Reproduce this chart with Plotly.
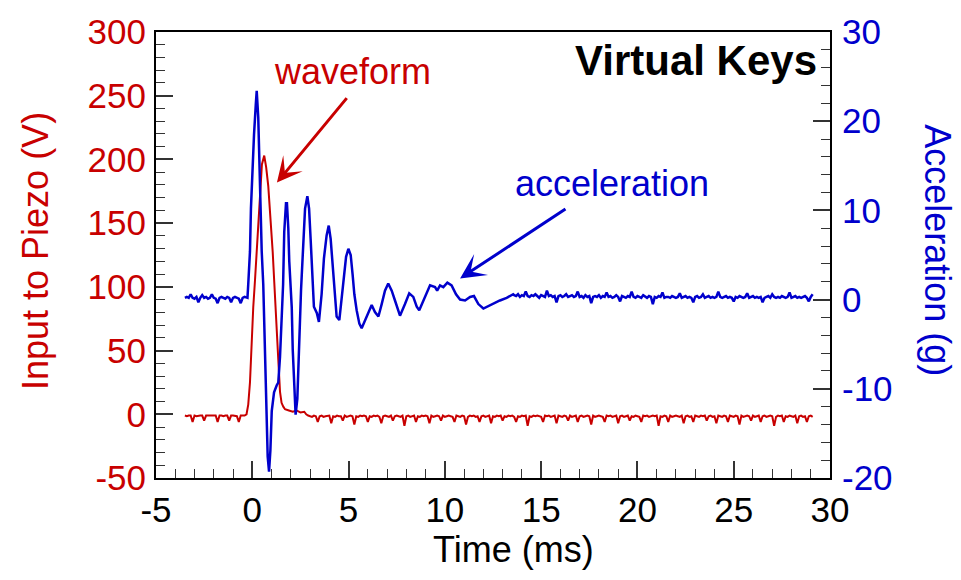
import plotly.graph_objects as go

# ---------------- data ----------------
NOISE_DT = 0.1

# Input to piezo (V)
red_pre_start = -3.5
red_pre = [-1, -1.5, -1, -1, -6, -1, -1.5, -1, -1, -1, -5, -1, -1, -1.5, -1, -1,
           -1, -6, -1, -1, -1.5, -1, -1, -5, -1, -1, -1, -1.5, -6, -1, -1, -1]
red_active_t = [-0.3, -0.21, -0.12, -0.03, 0.05, 0.14, 0.23, 0.31, 0.40, 0.50, 0.62, 0.72,
                0.83, 0.96, 1.06, 1.14, 1.27, 1.35, 1.44, 1.52, 1.61, 1.7, 1.9, 2.1, 2.3,
                2.5, 2.7, 2.8]
red_active_v = [0, 7.6, 25, 58, 84, 105, 127.5, 153, 179, 196, 203, 194,
                179, 153, 127.5, 104, 71, 43, 17.6, 9, 6, 4, 3, 2, 3,
                1.5, 2, 0]
red_post_start = 2.9
red_post = [
    -1, -1.5, -2, -1, -1.5, -6, -1.5, -1, -2, -1.5,
    -1.5, -1, -7, -1.5, -2, -1, -1.5, -1.5, -5, -1,
    -2, -1.5, -1, -1.5, -8, -1.5, -2, -1, -1.5, -1,
    -1.5, -6, -1.5, -2, -1, -1.5, -1, -2, -7, -1.5,
    -1, -1.5, -2, -1, -5, -1.5, -1, -1.5, -2, -1,
    -9, -1.5, -1, -2, -1.5, -1, -6, -1.5, -2, -1,
    -1.5, -1, -1.5, -7, -1, -2, -1.5, -1, -1.5, -5,
    -1, -2, -1.5, -1, -1.5, -2, -6, -1, -1.5, -2,
    -1, -1.5, -8, -2, -1, -1.5, -1, -2, -1.5, -6,
    -1.5, -1, -2, -1.5, -1, -7, -1.5, -2, -1, -1.5,
    -1, -5, -1.5, -2, -1, -1.5, -1, -2, -6, -1.5,
    -2, -1, -1.5, -1, -9, -1.5, -2, -1, -1.5, -1,
    -1.5, -2, -6, -1, -1.5, -1, -2, -1.5, -1, -7,
    -1, -1.5, -2, -1, -1.5, -5, -1, -2, -1.5, -1,
    -6, -1.5, -1, -2, -1.5, -1, -1.5, -8, -1, -2,
    -1.5, -1, -1.5, -2, -6, -1, -1.5, -1, -2, -1.5,
    -1, -7, -1.5, -1, -2, -1.5, -1, -5, -1.5, -2,
    -1, -1.5, -2, -6, -1, -1.5, -1, -2, -1.5, -1,
    -1.5, -1, -9, -1.5, -2, -1, -1.5, -6, -1, -2,
    -1.5, -1, -1.5, -2, -1, -7, -1.5, -1, -2, -1.5,
    -6, -1, -1.5, -2, -1, -1.5, -1, -5, -1.5, -1,
    -2, -1.5, -7, -1, -1.5, -2, -1, -1.5, -6, -1,
    -1.5, -2, -1, -1.5, -8, -1, -2, -1.5, -1, -1.5,
    -5, -1, -2, -1.5, -1, -6, -1.5, -1, -2, -1.5,
    -1, -1.5, -9, -2, -1, -1.5, -1, -6, -1.5, -2,
    -1, -1.5, -2, -1, -7, -1.5, -1, -2, -1.5, -6,
    -1.5, -1, -2]

# Acceleration (g)
blue_pre_start = -3.5
blue_pre = [0.2, 0.3, 0.2, 0.6, 0.2, 0.1, 0.3, -0.3, 0.2, 0.5, 0.2, 0.3, 0.1, 0.2, 0.6, 0.2,
            0.1, -0.4, 0.2, 0.3, 0.2, 0.1, 0.3, 0.2, -0.3, 0.2, 0.3, 0.2, 0.1, -0.4, 0.2,
            0.3, 0.2]
blue_active_t = [-0.25, -0.21, -0.12, -0.07, 0.0, 0.09, 0.18, 0.23, 0.31, 0.36, 0.44, 0.49,
                 0.57, 0.62, 0.70, 0.75, 0.80, 0.87, 0.94, 1.01, 1.13, 1.27, 1.35, 1.44,
                 1.53, 1.60, 1.66, 1.75, 1.80, 1.87, 1.92, 1.98, 2.05, 2.10, 2.17, 2.25,
                 2.34, 2.39, 2.48, 2.53, 2.57, 2.65, 2.74, 2.86, 2.95, 3.03, 3.12, 3.2,
                 3.35, 3.46, 3.6, 3.72, 3.86, 3.97, 4.07, 4.18, 4.3, 4.38, 4.52, 4.64,
                 4.76, 4.87, 4.99, 5.11, 5.21, 5.30, 5.42, 5.56, 5.68, 5.85, 6.03, 6.2,
                 6.37, 6.55, 6.72, 6.89, 7.06, 7.24, 7.41, 7.67, 7.93, 8.15, 8.36, 8.54,
                 8.67, 8.97, 9.23, 9.49, 9.6, 9.75, 9.92, 10.13, 10.35, 10.58, 10.79,
                 11.05, 11.31, 11.51, 11.74, 12.0, 12.26, 12.52, 12.86, 13.21, 13.55]
blue_active_g = [0.2, 1.7, 5.4, 10.2, 14.5, 18.5, 21.8, 23.4, 20.4, 15.6, 10.2, 5.4,
                 1.7, -2.7, -8.2, -13.6, -17.6, -19.3, -16.9, -12.5, -10.4, -9.6, -9.3, -6.4,
                 -1.6, 1.7, 7.6, 10.8, 10.8, 8.0, 4.3, 1.7, -0.9, -5.6, -10.0, -12.9,
                 -11.1, -7.4, -2.7, 1.0, 2.8, 6.5, 10.2, 11.6, 10.2, 6.8, 3.5, -0.8,
                 -1.5, -2.5, 0.6, 4.6, 7.2, 8.3, 6.8, 3.5, 0.3, -1.9, -2.3, -0.1,
                 2.8, 4.8, 5.7, 5.0, 2.8, 0.6, -1.2, -2.7, -3.2, -2.3, -1.4, -0.6,
                 -1.4, -1.9, -0.5, 1.0, 1.8, 1.0, -0.1, -1.8, -0.5, 0.7, 0.3, -0.8,
                 -1.2, 0.3, 1.6, 1.4, 1.0, 1.6, 1.4, 1.9, 1.6, 0.6, 0.0,
                 -0.1, 0.3, 0.4, -0.5, -1.0, -0.7, -0.4, -0.1, 0.2, 0.6]
blue_post_start = 13.6
blue_post = [
    0.5, 0.4, 0.6, 0.3, 0.5, 0.4, 0.9, 0.4, 0.3, 0.5,
    0.4, 0.6, 0.4, 0.2, 0.5, 0.4, 0.3, 1.0, 0.4, 0.5,
    0.3, 0.4, -0.3, 0.4, 0.5, 0.3, 0.4, 0.6, 0.3, 0.4,
    0.5, 0.3, 0.4, 0.9, 0.3, 0.4, 0.2, 0.5, 0.3, 0.4,
    -0.4, 0.3, 0.4, 0.3, 0.5, 0.2, 0.4, 0.3, 0.8, 0.3,
    0.4, 0.2, 0.3, 0.5, 0.3, -0.2, 0.4, 0.3, 0.2, 0.4,
    0.3, 0.9, 0.3, 0.2, 0.4, 0.3, 0.2, 0.5, 0.3, 0.2,
    0.4, 0.3, -0.5, 0.3, 0.2, 0.4, 0.3, 0.8, 0.2, 0.3,
    0.3, 0.2, 0.4, 0.3, 0.2, 0.3, 0.7, 0.2, 0.3, 0.4,
    0.2, 0.3, 0.2, -0.3, 0.3, 0.4, 0.2, 0.3, 0.6, 0.2,
    0.3, 0.4, 0.2, 0.3, 0.2, 0.3, 0.9, 0.3, 0.2, 0.3,
    0.4, 0.2, 0.3, 0.2, -0.2, 0.3, 0.2, 0.4, 0.3, 0.2,
    0.3, 0.7, 0.2, 0.3, 0.4, 0.2, 0.3, 0.2, 0.3, -0.3,
    0.2, 0.3, 0.4, 0.2, 0.6, 0.3, 0.2, 0.3, 0.2, 0.4,
    0.3, 0.2, 0.3, 0.8, 0.2, 0.3, 0.4, 0.2, 0.3, 0.2,
    0.3, 0.4, 0.2, -0.2, 0.3, 0.6]

x_ticks = [-5, 0, 5, 10, 15, 20, 25, 30]
y1_ticks = [-50, 0, 50, 100, 150, 200, 250, 300]
y2_ticks = [-20, -10, 0, 10, 20, 30]

assert len(red_active_t) == len(red_active_v)
assert len(blue_active_t) == len(blue_active_g)


def seg_times(start, n):
    return [round(start + i * NOISE_DT, 3) for i in range(n)]


def labels(vals):
    # plain hyphen-minus, as in the reference
    return [str(v) for v in vals]


red_t = seg_times(red_pre_start, len(red_pre)) + red_active_t + seg_times(red_post_start, len(red_post))
red_v = red_pre + red_active_v + red_post
blue_t = seg_times(blue_pre_start, len(blue_pre)) + blue_active_t + seg_times(blue_post_start, len(blue_post))
blue_g = blue_pre + blue_active_g + blue_post

RED = "#C80000"
BLUE = "#0000CC"
FONT = "Liberation Sans, Arial, sans-serif"

fig = go.Figure()
fig.add_trace(go.Scatter(x=red_t, y=red_v, mode="lines", line=dict(color=RED, width=2),
                         yaxis="y", showlegend=False))
fig.add_trace(go.Scatter(x=blue_t, y=blue_g, mode="lines", line=dict(color=BLUE, width=2.5),
                         yaxis="y2", showlegend=False))

common = dict(showgrid=False, zeroline=False, showline=True, linecolor="black", linewidth=2,
              ticks="inside", ticklen=17, tickwidth=1.5, tickcolor="#333333")
minor_common = dict(ticks="inside", ticklen=9, tickcolor="#333333", tickwidth=1.2)

fig.update_layout(
    width=961, height=580,
    margin=dict(l=156, r=131, t=22, b=102),
    paper_bgcolor="white", plot_bgcolor="white",
    font=dict(family=FONT, size=35, color="black"),
    xaxis=dict(range=[-5, 30], tickvals=x_ticks, ticktext=labels(x_ticks), mirror=True,
               minor=dict(dtick=1, tick0=0, **minor_common),
               tickfont=dict(size=35, color="black"), ticklabelstandoff=0, **common),
    yaxis=dict(range=[-50, 300], tickvals=y1_ticks, ticktext=labels(y1_ticks),
               minor=dict(dtick=10, tick0=0, **minor_common),
               tickfont=dict(size=35, color=RED), ticklabelstandoff=1, **common),
    yaxis2=dict(range=[-20, 30], tickvals=y2_ticks, ticktext=labels(y2_ticks),
                overlaying="y", side="right",
                minor=dict(dtick=2, tick0=0, **minor_common),
                tickfont=dict(size=35, color=BLUE), ticklabelstandoff=3, **common),
)

annotations = [
    dict(text="Time (ms)", xref="paper", yref="paper", x=0.531, y=-0.16, showarrow=False,
         font=dict(size=36, color="black"), xanchor="center", yanchor="middle"),
    dict(text="Input to Piezo (V)", xref="paper", yref="paper", x=-0.178, y=0.509, showarrow=False,
         textangle=-90, font=dict(size=36, color=RED), xanchor="center", yanchor="middle"),
    dict(text="Acceleration (g)", xref="paper", yref="paper", x=1.160, y=0.511, showarrow=False,
         textangle=90, font=dict(size=36, color=BLUE), xanchor="center", yanchor="middle"),
    dict(text="<b>Virtual Keys</b>", xref="paper", yref="paper", x=0.984, y=0.935, showarrow=False,
         font=dict(size=42, color="black"), xanchor="right", yanchor="middle"),
    dict(text="waveform", xref="paper", yref="paper", x=0.292, y=0.912, showarrow=False,
         font=dict(size=36, color=RED), xanchor="center", yanchor="middle"),
    dict(text="acceleration", xref="paper", yref="paper", x=0.677, y=0.661, showarrow=False,
         font=dict(size=36, color=BLUE), xanchor="center", yanchor="middle"),
    # arrows (tip at x,y ; tail at ax,ay in data units)
    dict(text="", x=1.28, y=181.8, ax=4.97, ay=249.3, xref="x", yref="y", axref="x", ayref="y",
         showarrow=True, arrowhead=3, arrowsize=1.4, arrowwidth=3, arrowcolor=RED),
    dict(text="", x=10.79, y=106.6, ax=16.34, ay=161.9, xref="x", yref="y", axref="x", ayref="y",
         showarrow=True, arrowhead=3, arrowsize=1.4, arrowwidth=3, arrowcolor=BLUE),
]
fig.update_layout(annotations=annotations)

fig.write_html("out.html")
